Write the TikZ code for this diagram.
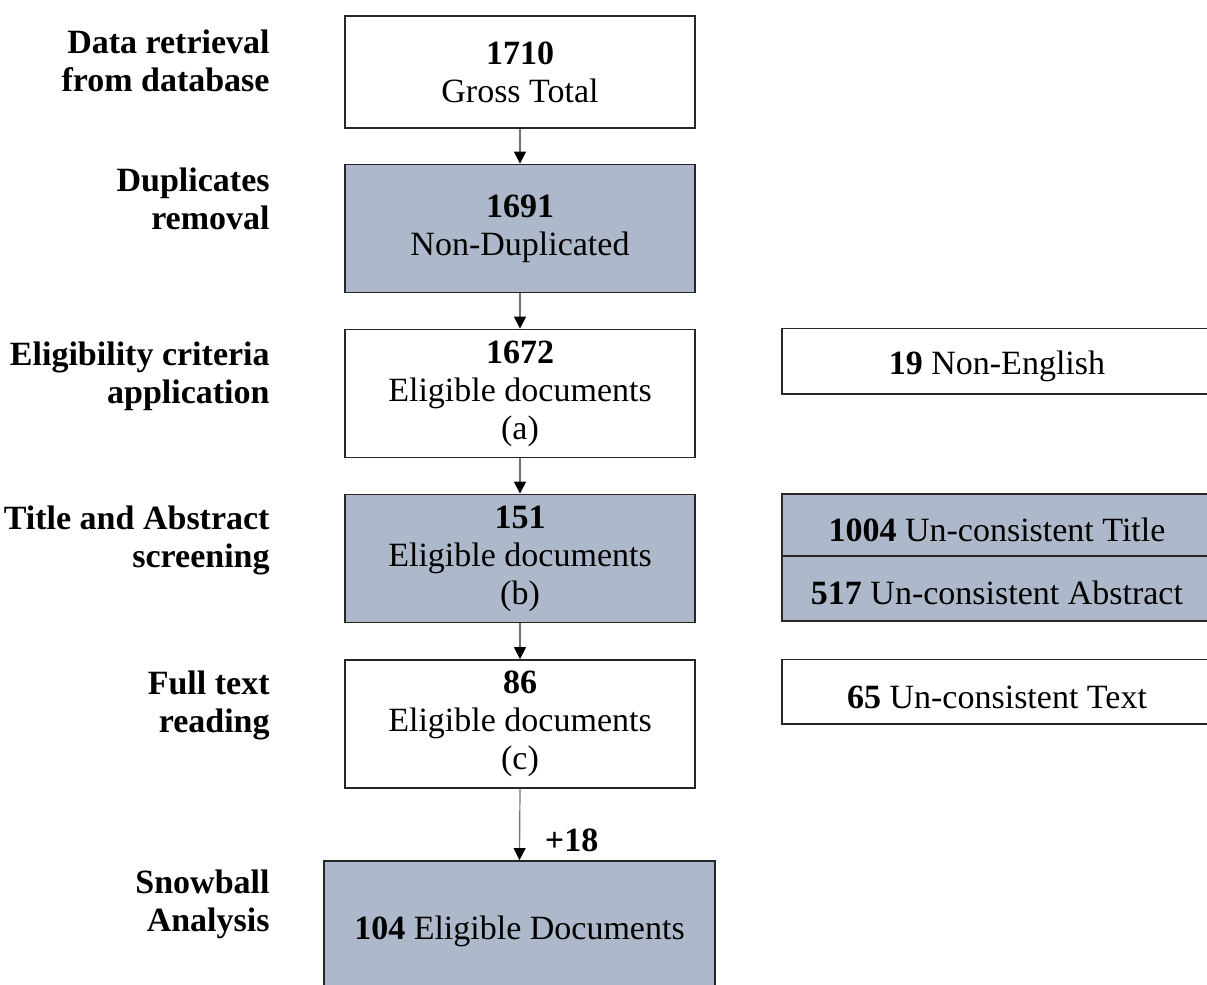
\documentclass[tikz,border=0pt]{standalone}
\usepackage{fontspec}
\setmainfont{Liberation Serif}
\usetikzlibrary{arrows.meta}
\definecolor{stageblue}{HTML}{ADB9CA}

\begin{document}
\begin{tikzpicture}[
    x=0.5pt, y=-0.5pt,
    stage/.style={draw=black!85, line width=0.9pt, minimum width=175pt,
                  minimum height=64pt, inner sep=0pt, align=center,
                  font=\fontsize{17}{19}\selectfont,
                  execute at begin node={\rule{0pt}{16.5pt}}},
    side/.style={stage, minimum width=215pt},
    stagelbl/.style={anchor=east, align=right, inner sep=0pt,
                     font=\fontsize{17}{19}\selectfont\bfseries},
    flow/.style={draw=black!55, line width=0.6pt,
                 -{Triangle[color=black, length=6pt, width=6pt]}}
  ]
  \useasboundingbox (0,0) rectangle (1207,985);

  % Stage labels on the left
  \node[stagelbl] (l1) at (270, 61)  {Data retrieval\\from database};
  \node[stagelbl] (l2) at (270, 199) {Duplicates\\removal};
  \node[stagelbl] (l3) at (270, 376) {Eligibility criteria\\application};
  \node[stagelbl] (l4) at (270, 540) {Title and Abstract\\screening};
  \node[stagelbl] (l5) at (270, 705) {Full text\\reading};
  \node[stagelbl] (l6) at (270, 904) {Snowball\\Analysis};

  % Main column
  \node[stage, minimum height=56pt] (s1) at (520, 72)
    {\textbf{1710}\\Gross Total};
  \node[stage, fill=stageblue] (s2) at (520, 228.5)
    {\textbf{1691}\\Non-Duplicated};
  \node[stage] (s3) at (520, 393.5)
    {\textbf{1672}\\Eligible documents\\(a)};
  \node[stage, fill=stageblue] (s4) at (520, 558.5)
    {\textbf{151}\\Eligible documents\\(b)};
  \node[stage] (s5) at (520, 724)
    {\textbf{86}\\Eligible documents\\(c)};
  \node[stage, fill=stageblue, minimum width=195.5pt, minimum height=66pt]
    (s6) at (519.5, 927) {\textbf{104} Eligible Documents};

  % Excluded records on the right
  \node[side, minimum height=32.75pt] (x3) at (997, 361.25)
    {\textbf{19} Non-English};
  \node[side, fill=stageblue, minimum height=31pt] (x4a) at (997, 525)
    {\textbf{1004} Un-consistent Title};
  \node[side, fill=stageblue, minimum height=32.3pt] (x4b) at (997, 588.3)
    {\textbf{517} Un-consistent Abstract};
  \node[side, minimum height=32.25pt] (x5) at (997, 691.75)
    {\textbf{65} Un-consistent Text};

  % Arrows
  \draw[flow] (s1) -- (s2);
  \draw[flow] (s2) -- (s3);
  \draw[flow] (s3) -- (s4);
  \draw[flow] (s4) -- (s5);
  \draw[flow] (s5.south) -- node[pos=0.72, anchor=west, xshift=9pt,
    font=\fontsize{17}{19}\selectfont\bfseries] (plus) {+18} (s6.north);
\end{tikzpicture}
\end{document}
